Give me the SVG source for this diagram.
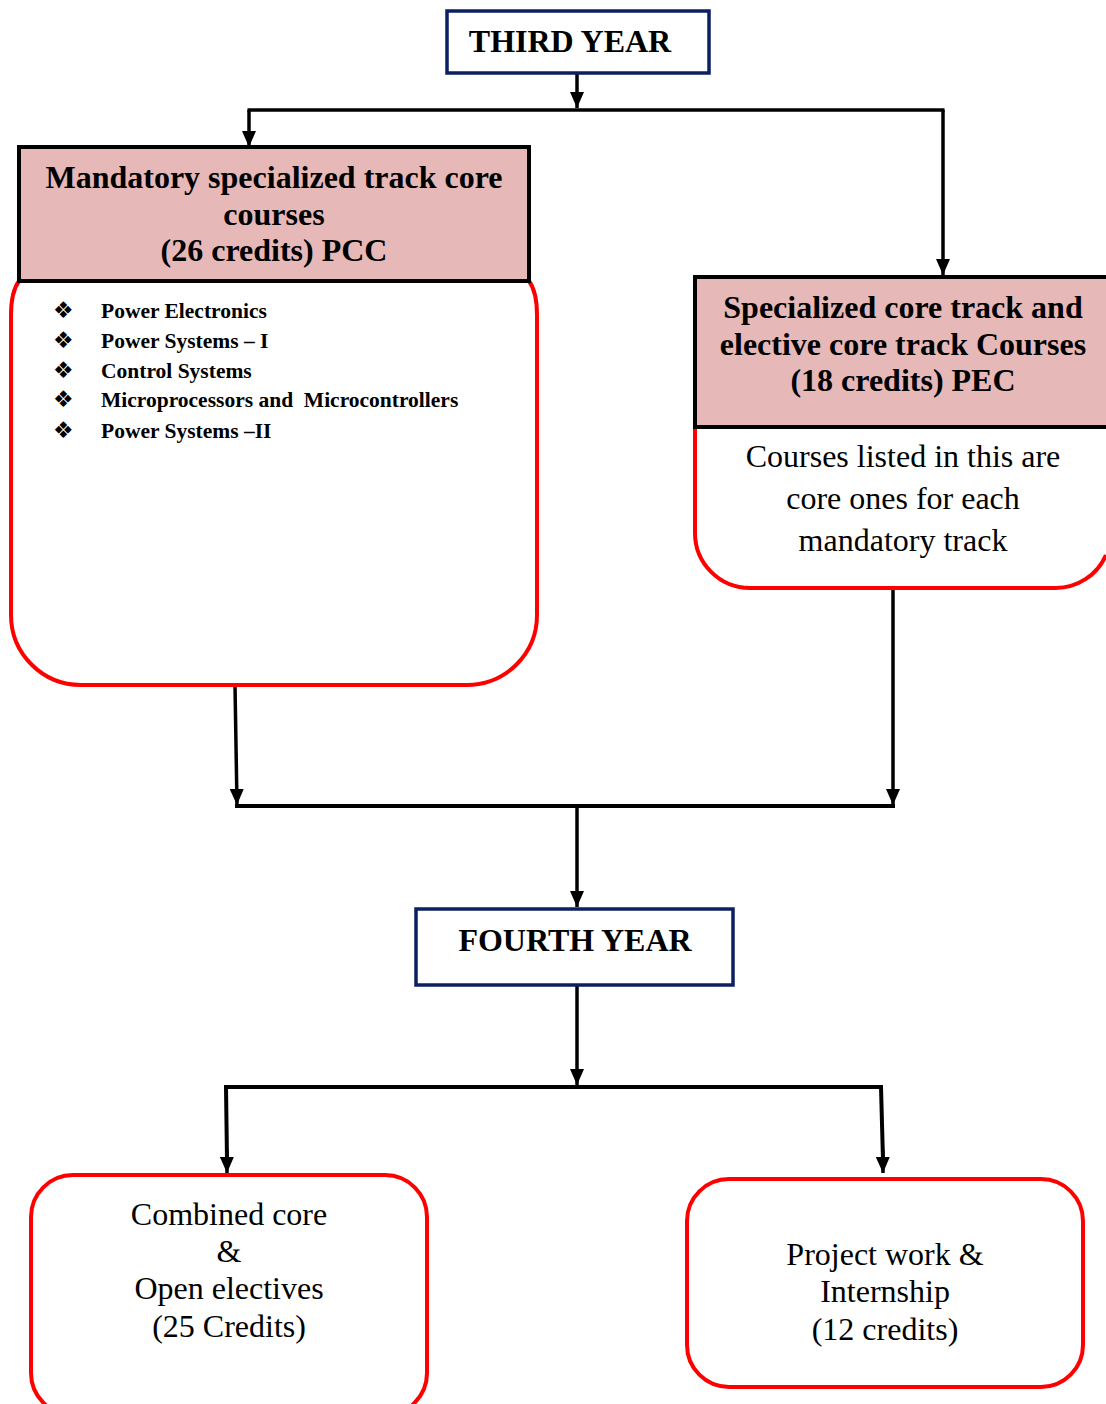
<svg xmlns="http://www.w3.org/2000/svg" width="1106" height="1404" viewBox="0 0 1106 1404">
<style>
.t{font-family:"Liberation Serif","Times New Roman",serif;fill:#000;text-anchor:middle;font-size:32px}
.b{font-weight:bold}
.yr{fill:#fff;stroke:#0b2063;stroke-width:3.5}
.hd{fill:#e6b8b7;stroke:#000;stroke-width:4}
.rd{fill:#fff;stroke:#ff0000;stroke-width:4}
.c{fill:none;stroke:#000;stroke-width:3.5}
.bl{font-family:"Liberation Serif","Times New Roman",serif;font-weight:bold;font-size:21.5px}
.dm{font-family:"DejaVu Sans",sans-serif;font-size:23px}
</style>
<defs>
<marker id="ad" markerUnits="userSpaceOnUse" markerWidth="16" markerHeight="14" viewBox="0 0 16 14" refX="16" refY="7" orient="auto">
<path d="M0,0 L16,7 L0,14 Z" fill="#000"/>
</marker>
</defs>

<g id="connectors">
<line class="c" x1="577" y1="73" x2="577" y2="108" marker-end="url(#ad)"/>
<line class="c" x1="247.5" y1="110" x2="944.5" y2="110"/>
<line class="c" x1="249" y1="110" x2="249" y2="147" marker-end="url(#ad)"/>
<line class="c" x1="943" y1="110" x2="943" y2="275" marker-end="url(#ad)"/>
<line class="c" x1="235" y1="685" x2="237" y2="805" marker-end="url(#ad)"/>
<line class="c" x1="893" y1="588" x2="893" y2="805" marker-end="url(#ad)"/>
<line class="c" x1="235" y1="806" x2="895" y2="806" style="stroke-width:4"/>
<line class="c" x1="577" y1="806" x2="577" y2="907" marker-end="url(#ad)"/>
<line class="c" x1="577" y1="985" x2="577" y2="1085" marker-end="url(#ad)"/>
<polyline class="c" points="227,1160 226,1087 881,1087 883,1160" style="stroke-width:4"/>
<line class="c" x1="226.8" y1="1150" x2="227" y2="1173" marker-end="url(#ad)"/>
<line class="c" x1="882.7" y1="1150" x2="883" y2="1173" marker-end="url(#ad)"/>
</g>

<g id="third-year">
<rect class="yr" x="447" y="11" width="262" height="62"/>
<text class="t b" x="570" y="52">THIRD YEAR</text>
</g>

<g id="pcc">
<path class="rd" d="M19,281 Q11,292 11,315 L11,615 A70,70 0 0 0 81,685 L467,685 A70,70 0 0 0 537,615 L537,315 Q537,292 529,281"/>
<rect class="hd" x="19" y="147" width="510" height="134"/>
<text class="t b" x="274" y="188">Mandatory specialized track core</text>
<text class="t b" x="274" y="225">courses</text>
<text class="t b" x="274" y="261">(26 credits) PCC</text>
<g>
<text class="dm" x="53" y="318">❖</text>
<text class="dm" x="53" y="348">❖</text>
<text class="dm" x="53" y="378">❖</text>
<text class="dm" x="53" y="407">❖</text>
<text class="dm" x="53" y="438">❖</text>
<text class="bl" x="101" y="318">Power Electronics</text>
<text class="bl" x="101" y="348">Power Systems – I</text>
<text class="bl" x="101" y="378">Control Systems</text>
<text class="bl" x="101" y="407" xml:space="preserve">Microprocessors and  Microcontrollers</text>
<text class="bl" x="101" y="438">Power Systems –II</text>
</g>
</g>

<g id="pec">
<path class="rd" d="M695,427 L695,533 A55,55 0 0 0 750,588 L1055,588 A55,55 0 0 0 1106,555"/>
<rect class="hd" x="695" y="277" width="420" height="150"/>
<text class="t b" x="903" y="318">Specialized core track and</text>
<text class="t b" x="903" y="355">elective core track Courses</text>
<text class="t b" x="903" y="391">(18 credits) PEC</text>
<text class="t" x="903" y="467">Courses listed in this are</text>
<text class="t" x="903" y="509">core ones for each</text>
<text class="t" x="903" y="551">mandatory track</text>
</g>

<g id="fourth-year">
<rect class="yr" x="416" y="909" width="317" height="76"/>
<text class="t b" x="575" y="951">FOURTH YEAR</text>
</g>

<g id="open-electives">
<rect class="rd" x="31" y="1175" width="396" height="240" rx="42"/>
<text class="t" x="229" y="1225">Combined core</text>
<text class="t" x="229" y="1262">&amp;</text>
<text class="t" x="229" y="1299">Open electives</text>
<text class="t" x="229" y="1337">(25 Credits)</text>
</g>

<g id="project">
<rect class="rd" x="687" y="1179" width="396" height="208" rx="42"/>
<text class="t" x="885" y="1265">Project work &amp;</text>
<text class="t" x="885" y="1302">Internship</text>
<text class="t" x="885" y="1340">(12 credits)</text>
</g>
</svg>
